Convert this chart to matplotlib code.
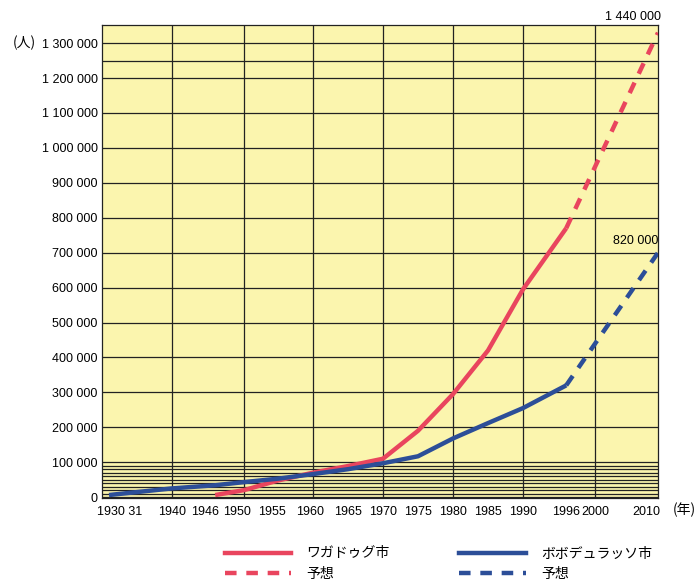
import numpy as np
import matplotlib
matplotlib.use('Agg')
import matplotlib.pyplot as plt
from matplotlib.lines import Line2D
from matplotlib.transforms import ScaledTranslation

num_font = 'Liberation Sans'
jp_font = 'Noto Sans CJK JP'
plt.rcParams['font.family'] = [num_font, jp_font]

# ワガドゥグ市
years_ouaga = [1946, 1950, 1955, 1960, 1965, 1970, 1975, 1980, 1985, 1990, 1996]
pop_ouaga = [6000, 20000, 48000, 70000, 89000, 110000, 190000, 295000, 420000, 595000, 770000]
years_ouaga_fc = [1996, 2010]
pop_ouaga_fc = [770000, 1330000]

# ボボデュラッソ市
years_bobo = [1931, 1940, 1946, 1950, 1955, 1960, 1965, 1970, 1975, 1980, 1985, 1990, 1996]
pop_bobo = [6000, 25000, 34000, 43000, 53000, 66000, 80000, 97000, 117000, 168000, 212000, 255000, 320000]
years_bobo_fc = [1996, 2010]
pop_bobo_fc = [320000, 700000]

end_labels = ['1 440 000', '820 000']

x_ticks = [1930, 1940, 1946, 1950, 1955, 1960, 1965, 1970, 1975, 1980, 1985, 1990, 1996, 2000, 2010]
x_ticklabels = ['1930 31', '1940', '1946', '1950', '1955', '1960', '1965', '1970', '1975',
                '1980', '1985', '1990', '1996', '2000', '2010']
y_ticks = list(range(0, 1300001, 100000))

# the printed axis is slightly squeezed in the last decade
decades = [1930, 1940, 1950, 1960, 1970, 1980, 1990, 2000, 2010]
decade_pos = [0, 70, 142, 211, 281, 351, 421, 493, 556]

def fwd(x):
    return np.interp(x, decades, decade_pos, left=-1e3, right=1e4)

def inv(x):
    return np.interp(x, decade_pos, decades, left=1800, right=2200)

red = '#E9455E'
blue = '#2C4E98'
bg = '#FBF5AE'

fig = plt.figure(figsize=(6.99, 5.86), dpi=100)
ax = fig.add_axes([102 / 699, 1 - 498 / 586, 556 / 699, 473 / 586])
ax.set_facecolor(bg)
ax.set_xscale('function', functions=(fwd, inv))
ax.set_xlim(1930, 2010)
ax.set_ylim(-2500, 1352000)

# grid
for x in decades[1:-1]:
    ax.axvline(x, color='#222222', lw=0.9, zorder=1)
hlines = y_ticks + list(range(10000, 100000, 10000)) + [1250000]
for y in hlines:
    ax.axhline(y, color='#222222', lw=0.9, zorder=1)

lw = 3.2
dash = (2.6, 2.2)
ax.plot(years_ouaga, pop_ouaga, color=red, lw=lw, solid_capstyle='butt', zorder=3)
ax.plot(years_ouaga_fc, pop_ouaga_fc, color=red, lw=lw, dashes=dash, zorder=3)
ax.plot(years_bobo, pop_bobo, color=blue, lw=lw, solid_capstyle='butt', zorder=3)
ax.plot(years_bobo_fc, pop_bobo_fc, color=blue, lw=lw, dashes=dash, zorder=3)

ax.annotate(end_labels[0], xy=(years_ouaga_fc[-1], pop_ouaga_fc[-1]), xytext=(2, 11),
            textcoords='offset points', ha='right', va='center', fontsize=9)
ax.annotate(end_labels[1], xy=(years_bobo_fc[-1], pop_bobo_fc[-1]), xytext=(0, 8.5),
            textcoords='offset points', ha='right', va='center', fontsize=9)

ax.set_xticks(x_ticks)
ax.set_xticklabels(x_ticklabels)
ax.set_yticks(y_ticks)
ax.set_yticklabels(['{:,}'.format(v).replace(',', ' ') for v in y_ticks])
ax.tick_params(length=0, labelsize=9, pad=3)
ax.tick_params(axis='x', pad=6)

# printed labels sit a little off their grid positions
shift_px = {'1930 31': -5, '1946': -10, '1950': -7, '1955': -7, '1960': -3, '2010': -12}
for lab in ax.get_xticklabels():
    dx = shift_px.get(lab.get_text(), 0)
    if lab.get_text() == '1930 31':
        lab.set_horizontalalignment('left')
    if dx:
        lab.set_transform(lab.get_transform() + ScaledTranslation(dx / 100, 0, fig.dpi_scale_trans))

for s in ax.spines.values():
    s.set_color('#222222')
    s.set_linewidth(0.9)

fig.text(24 / 699, 1 - 43 / 586, '(人)', ha='center', va='center', fontsize=10,
         family=[jp_font, num_font])
fig.text(684 / 699, 1 - 510 / 586, '(年)', ha='center', va='center', fontsize=10,
         family=[jp_font, num_font])

handles = [Line2D([], [], color=red, lw=lw),
           Line2D([], [], color=red, lw=lw, dashes=dash),
           Line2D([], [], color=blue, lw=lw),
           Line2D([], [], color=blue, lw=lw, dashes=dash)]
labels = ['ワガドゥグ市', '予想', 'ボボデュラッソ市', '予想']
fig.legend(handles, labels, ncol=2, loc='upper left', bbox_to_anchor=(212 / 699, 1 - 534 / 586),
           frameon=False, handlelength=4.8, handletextpad=1.1,
           columnspacing=5.0, labelspacing=0.45, prop={'family': [jp_font, num_font], 'size': 10})

fig.savefig('out.png', dpi=100)
